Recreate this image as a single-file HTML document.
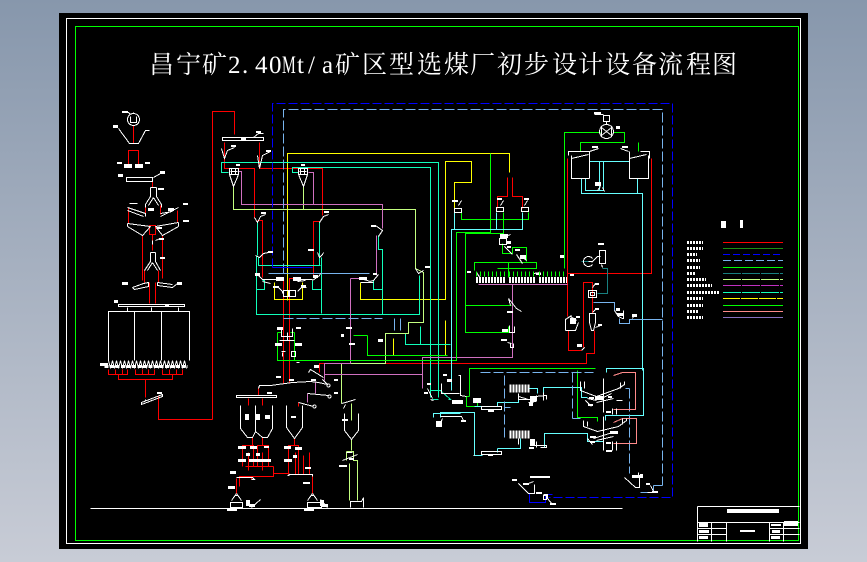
<!DOCTYPE html>
<html lang="zh">
<head>
<meta charset="utf-8">
<title>昌宁矿2.40Mt/a矿区型选煤厂初步设计设备流程图</title>
<style>
html,body{margin:0;padding:0;width:867px;height:562px;overflow:hidden;background:linear-gradient(180deg,#8797ac 0%,#c8ccd6 100%)}
svg{position:absolute;left:0;top:0;display:block}
path,line,rect.o,circle,polyline{fill:none}
.w path,.w line,.w rect.o,.w circle{stroke:#fff}
.b rect{fill:#fff;stroke:none}
.r{stroke:#f00}.y{stroke:#ff0}.g{stroke:#0f0}.a{stroke:#1fb}.c{stroke:#6ff}.l{stroke:#c4ff80}
.p{stroke:#d070c0}.s{stroke:#ff8a8a}.t{stroke:#188080}
.d{stroke:#00f;stroke-dasharray:9 3}.e{stroke:#78b4ee;stroke-dasharray:10 3}.f{stroke:#78b4ee}.n{stroke:#00f}
</style>
</head>
<body>
<svg width="867" height="562" viewBox="0 0 867 562" shape-rendering="crispEdges" stroke-width="1">
<rect x="59" y="13" width="749" height="536" fill="#000"/>
<rect class="o" x="66.5" y="18.5" width="734" height="525" stroke="#fff"/>
<rect class="o" x="75.5" y="26.5" width="723" height="514" stroke="#0f0"/>

<g fill="#fff" font-size="25" font-family="'Noto Serif CJK SC',serif" shape-rendering="auto">
<text y="73" x="149 176 202">昌宁矿</text>
<text y="73" x="335 362 389 417 444 470 497 524 552 578 605 632 658 686 712">矿区型选煤厂初步设计设备流程图</text>
</g>
<g fill="#fff" font-size="25" font-family="'Liberation Serif',serif">
<text y="73" x="228 242 255 269">2.40</text>
<text transform="translate(282,73) scale(.62,1)">M</text>
<text y="73" x="297 308 322">t/a</text>
</g>

<g transform="translate(.5,.5)">
<!-- red -->
<g class="r">
<path d="M212 419V111H234V134M212 419H158V396"/>
<path d="M133 125V143M128 167V150H138V167M152 181V187M128 208V223M177 210V222M145 205V214M160 205V214"/>
<path d="M149 225H155V234H149ZM152 234V250M142 235V280M162 235V278M158 270V282M144 270V282M149 282V303M155 282V303"/>
<path d="M108 369V374H127V369M135 369V374H154V369M162 369V374H182V369M115 369V374M122 369V374M142 369V374M148 369V374M169 369V374M176 369V374M118 374V379H172V374M145 379V397"/>
<path d="M224 142V168H254V217M259 142V168H322V215M257 220H262V277M313 277V221H319M278 278H283V383M289 383V278H297"/>
<path d="M497 208V196H507V177M512 177V196H522V208"/>
<path d="M567 158V273H651V158M567 273V316M568 330V350H581M583 347V282H592V313"/>
<path d="M319 372V363H586V353H594V330"/>
<path d="M258 388V395M248 398V405M262 398V405M252 437V445M262 437V445M294 438V445"/>
<path d="M242 466V445H253V466M257 466V445H268V466M288 474V445H298V474M248 452V470M262 452V470M295 452V474M303 455V474M309 452V474M273 466V476H239V486M245 466H273M251 476V479M273 473H289M312 474V493M236 478V493M298 402V406"/>
</g>

<!-- yellow -->
<g class="y">
<path d="M287 300V153H509V172M274 282V299H302V282M360 282V299H445V161H471V182H454V208"/>
<path d="M393 338V355H445V320"/>
</g>

<!-- aqua -->
<g class="a">
<path d="M228 172H221V162H438V397M298 172H292V167H430V397"/>
<path d="M257 222V255M256 255V314H419V275M258 257V265H320M319 222V265M321 257V313"/>
<path d="M262 280H264V289H256M312 280V289H321M378 235V249H382V314M373 280V289H382"/>
<path d="M405 333V344H450M420 326V344M430 390H440L450 399H448M438 399H432"/>
</g>

<!-- light green -->
<g class="l">
<path d="M233 186V209H415V268L423 272V322H408V333H385V363H341V403M303 186V209"/>
<path d="M351 403V420M351 439V450M346 451H353V460H357V500M346 451V460M349 463V500"/>
</g>

<!-- pink -->
<g class="p">
<path d="M238 171H241V204H382V228M308 172H313V204M313 172V204"/>
<path d="M376 235V275M350 278H360M350 278V363H324V380M324 374H422V357H512V284M422 374V388M315 382V393M307 393V402"/>
<path d="M478 284H567"/>
</g>

<!-- green -->
<g class="g">
<path d="M490 153V232H456V360H277V332M294 332V360M367 335H353M367 335V355H447"/>
<path d="M461 212V219H528V212M503 212V233H465V332H508V326M465 305H511"/>
<path d="M502 243V253H512V247H526V261M474 270V262H536V268H497M508 262V277M564 268V132H600M613 132H624V142H580V151M638 142V151"/>
<path d="M469 396V368H595M469 396H466V406H477V402M577 370V417H597V421"/>
<path d="M277 332H281M294 332H290"/>
</g>

<!-- cyan -->
<g class="c">
<path d="M454 212V229M496 212V229M522 212V229H451V390"/>
<path d="M589 161H629M599 161V190M603 161V190M585 178V190H603M581 178V193H642V370M637 178V193"/>
<path d="M440 417V412H474V455H482M433 417V413H460"/>
<path d="M474 406H497V402H518V393M497 448V452M497 448H520V438M528 388H537V393M543 392V387H581V397H587"/>
<path d="M544 447V433H587V441H603M606 372V368H643V415H605V420"/>
</g>

<!-- teal -->
<g class="t">
<path d="M581 261H592M602 268H607V293H597"/>
</g>

<!-- light blue -->
<g class="e">
<path d="M283 273V109H662V485"/>
<path d="M283 318H382M504 375V437M572 372V418M480 372H593M629 388V473M510 407H504"/>
</g>
<g class="f">
<path d="M268 273H369M394 318V330M400 318V330M572 418H580M593 302H614V310M619 318V323H629V319H662M653 485H662M629 388H625"/>
<path d="M653 485V492H640"/>
</g>

<!-- dark blue -->
<path class="d" d="M272 267V103H672V497H548"/>
<path class="n" d="M272 267H312M528 483L533 481M529 493V502H545V494H552"/>

<!-- salmon -->
<path class="s" d="M613 375L622 372H635V409H613M613 422L622 418H636V443H613"/>

<!-- white equipment -->
<g class="w">
<circle cx="133" cy="119" r="6"/>
<path d="M130 116V122H136V116M118 128L129 143H138L145 130H149M133 112V113M122 112H128L130 114"/>
<rect class="o" x="126" y="177" width="26" height="4"/>
<path d="M153 177L160 173M150 187H156M150 187V196L145 204V207M156 187V196L161 204V207M153 197L148 205M153 197L158 205"/>
<path d="M127 207L145 213V216M127 210L143 216M160 216L178 207M160 213L172 211M129 203H137"/>
<path d="M127 223L150 226M127 226L142 235L150 226M155 226L178 222M155 226L162 235L178 226M127 223V226M178 222V226"/>
<path d="M150 252H155M150 252V261L144 270M155 252V261L160 270M152 262L147 270M152 262L157 270M155 240L160 238M152 240V244"/>
<path d="M132 287L143 283L148 282V286L134 289L132 287M157 282V285L172 287L177 283M157 282L172 284"/>
<rect class="o" x="118" y="304" width="66" height="2"/>
<path d="M108 360V311H189V360M134 311V360M161 311V360M127 307V311M151 307V311M178 307V311"/>
<path d="M108 360l2 8 2-8 2 8 2-8 2 8 2-8 2 8 2-8 2 8 2-8 2 8 2-8 2 8 2-8 2 8 2-8 2 8 2-8 2 8 2-8 2 8 2-8 2 8 2-8 2 8 2-8 2 8 2-8 2 8 2-8 2 8 2-8 2 8 2-8 2 8 2-8 2 8 2-8 2 8 "/>
<line x1="104" y1="366" x2="187" y2="366" stroke-width="3" stroke-dasharray="4 1.500"/>
<path d="M141 402L162 394V396L141 404ZM145 400V399"/>

<rect class="o" x="222" y="137" width="41" height="3"/>
<path d="M221 148L224 158L227 150L234 147M257 155L259 168L262 155L270 151M253 137L258 133H263"/>
<path d="M229 168H238V174H229ZM229 174L233 186L238 174M231 168V174M235 168V174M230 171H237M298 168H307V174H298ZM298 174L303 186L307 174M300 168V174M304 168V174M299 171H306"/>
<path d="M254 217L257 222L260 216L265 214M319 222L323 216L328 214"/>
<path d="M255 255L259 257L263 253L268 252M317 252L319 257L322 254L323 252"/>
<path d="M256 273L262 279H276M262 281L270 283M312 280L319 275L320 273M293 279H312M297 281L305 280"/>
<path d="M277 286L282 291V293M297 291L301 287H306M283 290H288V296H283ZM289 290H295V296H289Z"/>
<path d="M369 281L373 280L378 274M360 282L373 282M360 278L370 281"/>
<path d="M378 236L382 230L375 225M415 268L418 273L423 270"/>
<path d="M279 340H287V332M294 340H286M281 328V336H292V328M282 352V356M285 351H281M291 351H295V356H291Z" />
<path d="M258 388L259 385L270 385L292 382L310 381L318 382L327 384M307 393L328 395M298 402L313 406M308 372L310 369L323 377M322 379L327 384M296 362H299"/>
<circle cx="328" cy="385" r="1.500"/>
<circle cx="329" cy="396" r="1.500"/>
<circle cx="314" cy="406" r="1.500"/>
<rect class="o" x="236" y="395" width="40" height="2"/>
<path d="M240 405V428L247 437H252L255 431L262 437H267L272 428V405M255 405V431"/>
<path d="M286 405V427L294 438L302 427V405"/>
<path d="M344 413V430L351 439L358 430V413"/>
<path d="M341 403L345 402L355 399M343 408L345 404"/>
<path d="M236 477H252L254 479H251M288 474H312L312 476M287 475H289M236 493L231 500M236 493L241 500M234 495H238M312 493L307 500M312 493L317 500M310 495H314"/>
<rect class="o" x="230" y="502" width="12" height="5"/>
<rect class="o" x="307" y="502" width="14" height="5"/>
<path d="M350 507V501H361L363 497V507M342 460L357 454M346 452H352"/>
<path d="M251 507L260 499M327 507L320 499"/>
<line x1="90" y1="508" x2="622" y2="508"/>

<!-- upper right -->
<rect class="o" x="454" y="208" width="7" height="4"/>
<rect class="o" x="496" y="207" width="7" height="4"/>
<rect class="o" x="521" y="207" width="7" height="4"/>
<path d="M458 205L461 200M500 205L503 200M524 205L527 200"/>
<path d="M499 238H506V244H499ZM505 236L510 234M504 246L512 254M516 254L522 263M520 255L526 260"/>
<path d="M476 272L480 278M533 273L540 272"/>
<path d="M510 305L508 298L516 308L521 311"/>
<path d="M509 325V332H514V326M510 343V347H513V343M507 342L511 343"/>
<circle cx="606" cy="131" r="7"/>
<path d="M601 127L611 135M601 135L611 127M601 127V135M611 127V135M603 115H609V121H603ZM606 121V124M594 114H603"/>
<path d="M568 155V151H589V178M571 155V178H589M571 158L588 154M589 151L598 148M640 151H649V158M629 151V178H648V155M629 158L646 154M628 151L620 148"/>
<path d="M597 190L600 186M602 187L604 191"/>
<rect class="o" x="599" y="250" width="6" height="13"/>
<path d="M591 262L597 256H600M592 258A5 5 0 1 0 592 264M588 261H592M601 264L602 267"/>
<rect class="o" x="588" y="290" width="8" height="7"/>
<rect class="o" x="590" y="292" width="4" height="3"/>
<path d="M592 287L595 283M592 312L596 308"/>
<path d="M589 313H595V322L593 330H591L589 322ZM595 327L600 325"/>
<path d="M565 330V319L571 315M565 330H575L578 322M570 316L576 320"/>
<path d="M614 310L618 316L622 318H623V310M632 318L634 314"/>
<path d="M581 350L584 347"/>

<!-- lower right -->
<path d="M427 388L432 398M430 399L433 400M441 383V393H445M441 393H459"/>
<path d="M442 418L439 425M440 416H461L463 420M474 455H473"/>
<path d="M458 375H460V395L466 396"/>
<rect class="o" x="481" y="406" width="20" height="3"/>
<rect class="o" x="481" y="451" width="20" height="3"/>
<line x1="509" y1="388" x2="530" y2="388" stroke-width="8" stroke-dasharray="2 1"/>
<line x1="509" y1="434" x2="530" y2="434" stroke-width="8" stroke-dasharray="2 1"/>
<path d="M518 393V399H533M518 396L528 399M535 396L546 395V399M528 402H533M536 395V401M543 392V400"/>
<path d="M518 438V444M533 445L546 445V447H540M536 441V447M530 441H534"/>
<path d="M580 381V390L596 396L618 388L624 384V381M584 381V388M620 382V388M603 378V412M603 397L611 393M587 398L596 400M596 402L613 398M616 400H622M612 414V408M616 414V408"/>
<path d="M583 420V426L597 431L618 426L626 420V418M587 421V426M622 418V424M603 416V450M593 438L612 432M596 440L613 436M612 450V441M616 450V441"/>
<path d="M585 400L591 406M587 438L592 444"/>
<path d="M624 477L635 487H639V477M638 472V477"/>
<path d="M518 483L528 493H534V484M528 483L533 481M543 494H547V498L552 504"/>
<path d="M650 485L653 491M647 492L653 492"/>
<rect class="o" x="543" y="495" width="3" height="4"/>

<!-- title block -->
<path d="M697 506H799M697 506V541M697 522H799M697 528H726M769 528H799M697 534H726M769 534H799M711 522V541M726 522V541M769 522V541M783 522V541"/>
</g>
</g>

<!-- illegible small annotations -->
<g class="b">
<rect x="122" y="111" width="6" height="2"/><rect x="113" y="125" width="5" height="3"/>
<rect x="124" y="164" width="8" height="4"/><rect x="135" y="164" width="8" height="4"/><rect x="117" y="162" width="5" height="2"/><rect x="145" y="162" width="5" height="2"/>
<rect x="118" y="174" width="5" height="3"/><rect x="160" y="171" width="5" height="3"/><rect x="158" y="188" width="6" height="2"/>
<rect x="148" y="208" width="6" height="3"/><rect x="168" y="208" width="6" height="3"/><rect x="183" y="203" width="5" height="2"/><rect x="183" y="220" width="6" height="2"/><rect x="157" y="227" width="5" height="2"/>
<rect x="159" y="238" width="5" height="2"/><rect x="160" y="257" width="5" height="2"/><rect x="122" y="282" width="6" height="3"/><rect x="177" y="282" width="5" height="3"/><rect x="114" y="300" width="4" height="3"/>
<rect x="100" y="363" width="8" height="3"/><rect x="157" y="392" width="5" height="2"/><rect x="165" y="304" width="4" height="2"/>
<rect x="241" y="138" width="5" height="2"/><rect x="256" y="131" width="5" height="2"/><rect x="231" y="145" width="5" height="2"/><rect x="266" y="150" width="5" height="2"/>
<rect x="236" y="164" width="4" height="2"/><rect x="301" y="164" width="4" height="2"/><rect x="261" y="212" width="5" height="2"/><rect x="324" y="211" width="5" height="2"/>
<rect x="268" y="251" width="5" height="2"/><rect x="308" y="249" width="6" height="2"/><rect x="371" y="225" width="5" height="2"/><rect x="425" y="266" width="5" height="2"/>
<rect x="255" y="273" width="5" height="3"/><rect x="276" y="277" width="8" height="4"/><rect x="293" y="277" width="8" height="4"/><rect x="373" y="273" width="4" height="2"/><rect x="359" y="277" width="8" height="3"/><rect x="313" y="275" width="5" height="3"/>
<rect x="273" y="286" width="6" height="2"/><rect x="301" y="285" width="5" height="2"/><rect x="277" y="327" width="6" height="3"/><rect x="296" y="327" width="5" height="2"/><rect x="275" y="343" width="7" height="3"/><rect x="295" y="343" width="7" height="3"/><rect x="349" y="343" width="6" height="2"/>
<rect x="346" y="327" width="6" height="2"/><rect x="341" y="334" width="3" height="3"/><rect x="378" y="339" width="5" height="3"/>
<rect x="276" y="376" width="5" height="2"/><rect x="289" y="379" width="5" height="2"/><rect x="311" y="379" width="5" height="2"/><rect x="334" y="379" width="4" height="2"/><rect x="267" y="392" width="5" height="2"/><rect x="334" y="392" width="4" height="2"/><rect x="314" y="365" width="5" height="3"/>
<rect x="245" y="414" width="4" height="6"/><rect x="255" y="414" width="5" height="6"/><rect x="265" y="415" width="5" height="4"/><rect x="291" y="416" width="5" height="2"/><rect x="342" y="419" width="6" height="2"/>
<rect x="238" y="446" width="8" height="3"/><rect x="250" y="446" width="7" height="3"/><rect x="264" y="446" width="5" height="2"/><rect x="284" y="446" width="7" height="3"/><rect x="295" y="447" width="7" height="3"/>
<rect x="238" y="459" width="8" height="3"/><rect x="249" y="459" width="22" height="3"/><rect x="284" y="459" width="8" height="3"/><rect x="246" y="453" width="4" height="3"/><rect x="256" y="453" width="4" height="3"/><rect x="293" y="455" width="4" height="3"/>
<rect x="230" y="471" width="6" height="3"/><rect x="305" y="467" width="6" height="2"/><rect x="228" y="486" width="7" height="3"/><rect x="303" y="482" width="7" height="2"/>
<rect x="227" y="509" width="10" height="2"/><rect x="304" y="509" width="10" height="2"/><rect x="246" y="500" width="4" height="6"/><rect x="320" y="500" width="4" height="6"/><rect x="249" y="504" width="6" height="3"/><rect x="322" y="504" width="6" height="3"/>
<rect x="339" y="465" width="8" height="2"/><rect x="349" y="458" width="5" height="2"/>
<rect x="452" y="200" width="6" height="2"/><rect x="497" y="198" width="5" height="2"/><rect x="524" y="198" width="5" height="2"/>
<rect x="500" y="234" width="8" height="4"/><rect x="506" y="241" width="5" height="3"/><rect x="507" y="246" width="4" height="2"/><rect x="520" y="255" width="6" height="4"/><rect x="515" y="249" width="5" height="2"/>
<rect x="560" y="255" width="4" height="3"/><rect x="467" y="271" width="4" height="2"/><rect x="536" y="273" width="5" height="2"/><rect x="570" y="274" width="4" height="2"/>
<rect x="507" y="311" width="6" height="2"/><rect x="502" y="329" width="6" height="3"/><rect x="501" y="339" width="6" height="2"/>
<rect x="594" y="112" width="7" height="2"/><rect x="616" y="126" width="4" height="3"/><rect x="592" y="146" width="6" height="2"/><rect x="622" y="146" width="6" height="2"/><rect x="595" y="182" width="6" height="4"/><rect x="598" y="243" width="6" height="2"/>
<rect x="595" y="283" width="4" height="2"/><rect x="595" y="308" width="4" height="2"/><rect x="598" y="324" width="4" height="2"/><rect x="570" y="318" width="6" height="6"/><rect x="576" y="316" width="4" height="2"/><rect x="577" y="344" width="5" height="3"/>
<rect x="616" y="308" width="4" height="3"/><rect x="617" y="313" width="7" height="3"/><rect x="632" y="314" width="5" height="3"/>
<rect x="443" y="374" width="4" height="2"/><rect x="427" y="383" width="4" height="2"/><rect x="447" y="379" width="5" height="3"/><rect x="424" y="392" width="4" height="2"/>
<rect x="452" y="400" width="11" height="4"/><rect x="473" y="398" width="8" height="5"/><rect x="436" y="421" width="6" height="6"/><rect x="461" y="420" width="5" height="2"/><rect x="488" y="409" width="6" height="3"/><rect x="488" y="454" width="5" height="2"/>
<rect x="530" y="396" width="6" height="6"/><rect x="529" y="403" width="4" height="3"/><rect x="530" y="439" width="5" height="7"/><rect x="529" y="447" width="5" height="2"/>
<rect x="595" y="396" width="8" height="4"/><rect x="589" y="397" width="5" height="2"/><rect x="588" y="404" width="5" height="2"/><rect x="608" y="396" width="4" height="2"/><rect x="606" y="411" width="5" height="2"/>
<rect x="610" y="431" width="8" height="3"/><rect x="590" y="436" width="6" height="2"/><rect x="590" y="441" width="5" height="2"/><rect x="606" y="442" width="5" height="2"/><rect x="606" y="450" width="6" height="2"/>
<rect x="530" y="476" width="20" height="2"/><rect x="512" y="479" width="5" height="2"/><rect x="523" y="483" width="6" height="2"/><rect x="536" y="492" width="6" height="2"/><rect x="550" y="503" width="6" height="2"/>
<rect x="632" y="475" width="8" height="3"/><rect x="640" y="474" width="3" height="4"/><rect x="646" y="483" width="4" height="2"/><rect x="652" y="491" width="6" height="2"/>
<!-- legend headings -->
<rect x="721" y="221" width="5" height="7"/><rect x="740" y="220" width="3" height="8"/>
<!-- title block text areas -->
<rect x="727" y="509" width="52" height="4"/><rect x="740" y="530" width="15" height="2"/><rect x="784" y="521" width="14" height="5"/>
<rect x="699" y="523" width="9" height="4"/><rect x="699" y="530" width="10" height="3"/><rect x="699" y="536" width="9" height="3"/>
<rect x="771" y="524" width="10" height="2"/><rect x="772" y="530" width="8" height="3"/><rect x="771" y="536" width="9" height="3"/>
</g>

<!-- legend labels: illegible, drawn as broken bars -->
<g stroke="#fff" stroke-width="3" stroke-dasharray="2 1">
<line x1="687" x2="703" y1="242.500" y2="242.500"/><line x1="687" x2="703" y1="248.500" y2="248.500"/><line x1="687" x2="697" y1="254.500" y2="254.500"/><line x1="687" x2="700" y1="260.500" y2="260.500"/><line x1="687" x2="700" y1="267.500" y2="267.500"/><line x1="687" x2="696" y1="273.500" y2="273.500"/><line x1="687" x2="706" y1="279.500" y2="279.500"/><line x1="687" x2="712" y1="285.500" y2="285.500"/><line x1="687" x2="719" y1="292.500" y2="292.500"/><line x1="687" x2="703" y1="298.500" y2="298.500"/><line x1="687" x2="703" y1="305.500" y2="305.500"/><line x1="687" x2="699" y1="311.500" y2="311.500"/><line x1="687" x2="703" y1="317.500" y2="317.500"/>
</g>

<!-- screen banks -->
<g stroke="#0f0">
<line x1="476" y1="274" x2="505" y2="274" stroke-width="5" stroke-dasharray="1 3"/>
<line x1="509" y1="274" x2="535" y2="274" stroke-width="5" stroke-dasharray="1 3"/>
<line x1="539" y1="274" x2="567" y2="274" stroke-width="5" stroke-dasharray="1 3"/>
</g>
<g stroke="#fff">
<line x1="476" y1="280" x2="505" y2="280" stroke-width="6" stroke-dasharray="2 1"/>
<line x1="509" y1="280" x2="535" y2="280" stroke-width="6" stroke-dasharray="2 1"/>
<line x1="539" y1="280" x2="567" y2="280" stroke-width="6" stroke-dasharray="2 1"/>
</g>

<!-- legend lines -->
<g stroke-width="1">
<line x1="723" x2="783" y1="242.500" y2="242.500" stroke="#f00"/>
<line x1="723" x2="783" y1="248.500" y2="248.500" stroke="#1a9010"/>
<line x1="723" x2="783" y1="254.500" y2="254.500" stroke="#00f" stroke-dasharray="7 3"/>
<line x1="723" x2="783" y1="260.500" y2="260.500" stroke="#78b4ee" stroke-dasharray="8 3"/>
<line x1="723" x2="783" y1="267.500" y2="267.500" stroke="#0f0"/>
<line x1="723" x2="783" y1="273.500" y2="273.500" stroke="#188080" stroke-dasharray="18 1"/>
<line x1="723" x2="783" y1="279.500" y2="279.500" stroke="#c4ff80" stroke-dasharray="18 1"/>
<line x1="723" x2="783" y1="285.500" y2="285.500" stroke="#c030c0" stroke-dasharray="18 1"/>
<line x1="723" x2="783" y1="292.500" y2="292.500" stroke="#1fb" stroke-dasharray="18 1"/>
<line x1="723" x2="783" y1="298.500" y2="298.500" stroke="#ff0" stroke-dasharray="17 1"/>
<line x1="723" x2="783" y1="305.500" y2="305.500" stroke="#0f0"/>
<line x1="723" x2="783" y1="311.500" y2="311.500" stroke="#ff8a8a"/>
<line x1="723" x2="783" y1="317.500" y2="317.500" stroke="#8870c0"/>
</g>
</svg>
</body>
</html>
